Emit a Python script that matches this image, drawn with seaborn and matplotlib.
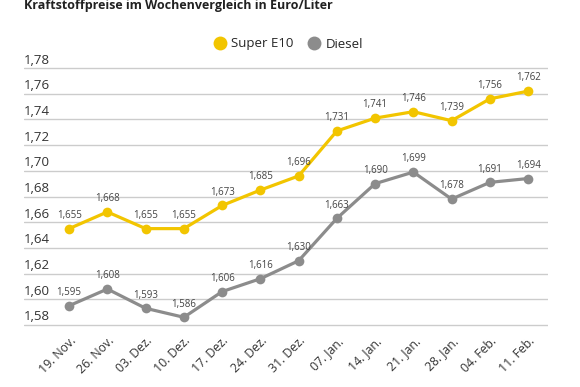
import matplotlib
matplotlib.use("Agg")
import matplotlib.pyplot as plt
import seaborn as sns
import pandas as pd
from matplotlib.lines import Line2D

dates = ["19. Nov.", "26. Nov.", "03. Dez.", "10. Dez.", "17. Dez.", "24. Dez.", "31. Dez.",
         "07. Jan.", "14. Jan.", "21. Jan.", "28. Jan.", "04. Feb.", "11. Feb."]
super_e10 = [1.655, 1.668, 1.655, 1.655, 1.673, 1.685, 1.696, 1.731, 1.741, 1.746, 1.739, 1.756, 1.762]
diesel = [1.595, 1.608, 1.593, 1.586, 1.606, 1.616, 1.630, 1.663, 1.690, 1.699, 1.678, 1.691, 1.694]
yticks = [1.58, 1.60, 1.62, 1.64, 1.66, 1.68, 1.70, 1.72, 1.74, 1.76, 1.78]
series_names = ["Super E10", "Diesel"]
title = "Kraftstoffpreise im Wochenvergleich in Euro/Liter"

colors = {"Super E10": "#F2C500", "Diesel": "#8C8C8C"}

sns.set_theme(style="white")
plt.rcParams['font.family'] = ['Open Sans', 'DejaVu Sans']

df = pd.DataFrame({
    "idx": list(range(len(dates))) * 2,
    "price": super_e10 + diesel,
    "series": [series_names[0]] * len(dates) + [series_names[1]] * len(dates),
})

W, H = 580, 387
fig = plt.figure(figsize=(W / 100, H / 100), dpi=100)
# pixel positions of the 1.78 and 1.58 gridlines, with a small margin
left, right, top, bottom = 24, 548, 68, 325
pad_px = 4
ppu = (bottom - top) / 0.20
ax = fig.add_axes([left / W, 1 - (bottom + pad_px) / H, (right - left) / W,
                   (bottom - top + 2 * pad_px) / H])

sns.lineplot(data=df, x="idx", y="price", hue="series", palette=colors,
             marker="o", markersize=7, markeredgewidth=0, linewidth=2.3,
             ax=ax, legend=False)
for l in ax.lines:
    l.set_clip_on(False)

ax.set_xlim(-1.18, 12.52)
ax.set_ylim(1.58 - pad_px / ppu, 1.78 + pad_px / ppu)
for s in ax.spines.values():
    s.set_visible(False)
ax.set_yticks(yticks)
ax.yaxis.grid(True, color="#cccccc", linewidth=1)
ax.set_axisbelow(True)
ax.tick_params(axis="y", length=0, labelleft=False)
ax.set_xlabel("")
ax.set_ylabel("")

for v in yticks:
    ax.text(0, v + 1.5 / ppu, f"{v:.2f}".replace(".", ","), transform=ax.get_yaxis_transform(),
            ha="left", va="bottom", fontsize=9.5, color="#333333")

ax.set_xticks(range(len(dates)))
ax.set_xticklabels(dates, rotation=45, ha="right", rotation_mode="anchor",
                   fontsize=8.8, color="#333333")
ax.tick_params(axis="x", length=0, pad=4)

for vals in (super_e10, diesel):
    for i, v in enumerate(vals):
        ax.annotate(f"{v:.3f}".replace(".", ","), (i, v), xytext=(0, 5.5),
                    textcoords="offset points", ha="center", va="bottom",
                    fontsize=7, color="#444444")

fig.text(24 / W, 1 - 5 / H, title, ha="left", va="center", fontsize=9,
         fontweight="bold", color="#222222")

handles = [Line2D([], [], marker="o", linestyle="", markersize=10,
                  markerfacecolor=colors[n], markeredgewidth=0) for n in series_names]
fig.legend(handles, series_names, loc="center", bbox_to_anchor=(288 / W, 1 - 44 / H),
           ncol=2, frameon=False, fontsize=9.5, handletextpad=0.4, columnspacing=1.0,
           handlelength=1)

fig.savefig("out.png", dpi=100)
